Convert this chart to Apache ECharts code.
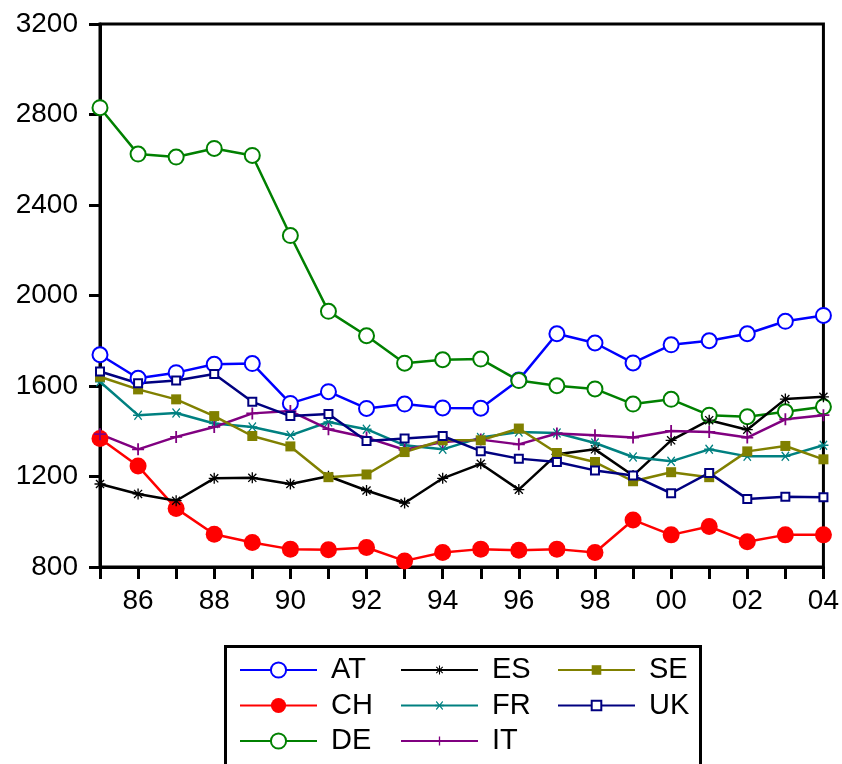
<!DOCTYPE html>
<html>
<head>
<meta charset="utf-8">
<script src="https://cdn.jsdelivr.net/npm/echarts@6/dist/echarts.min.js"></script>
<style>
html,body{margin:0;padding:0;background:#fff;}
#c{width:842px;height:764px;}
</style>
</head>
<body>
<div id="c"></div>
<script>
const years = ['1985','1986','1987','1988','1989','1990','1991','1992','1993','1994','1995','1996','1997','1998','1999','2000','2001','2002','2003','2004'];
const AT = [1738,1634,1659,1696,1699,1523,1575,1501,1520,1503,1502,1627,1831,1790,1702,1782,1800,1831,1886,1912];
const CH = [1368,1246,1059,945,908,879,876,886,827,864,879,874,879,864,1008,942,979,912,942,942];
const DE = [2830,2625,2612,2650,2619,2265,1930,1822,1701,1716,1719,1624,1601,1587,1520,1541,1471,1464,1486,1508];
const ES = [1167,1123,1093,1192,1194,1167,1201,1138,1083,1192,1256,1142,1298,1320,1204,1360,1449,1407,1542,1552];
const FR = [1619,1471,1481,1434,1419,1382,1441,1409,1338,1320,1372,1397,1392,1348,1286,1267,1320,1289,1289,1338];
const IT = [1387,1320,1375,1419,1479,1489,1409,1372,1318,1352,1363,1342,1390,1382,1372,1401,1397,1372,1453,1471];
const SE = [1641,1585,1541,1467,1379,1333,1197,1209,1308,1360,1360,1412,1304,1264,1179,1219,1197,1311,1335,1276];
const UK = [1664,1612,1624,1653,1530,1467,1476,1357,1368,1379,1312,1279,1264,1227,1204,1126,1216,1101,1111,1108];
const yTicks = [800,1200,1600,2000,2400,2800,3200];

const STAR8 = 'path://M8.8,0H11.2V8.8H20V11.2H11.2V20H8.8V11.2H0V8.8H8.8Z M1.8,3.5L3.5,1.8L18.2,16.5L16.5,18.2Z M16.5,1.8L18.2,3.5L3.5,18.2L1.8,16.5Z';
const STAR6 = 'path://M0,8.8H20V11.2H0Z M1.8,3.5L3.5,1.8L18.2,16.5L16.5,18.2Z M16.5,1.8L18.2,3.5L3.5,18.2L1.8,16.5Z';
const PLUS = 'path://M8.5,0H11.5V8.5H20V11.5H11.5V20H8.5V11.5H0V8.5H8.5Z';

const FONT = '"Liberation Sans", Arial, sans-serif';

function mk(name, data, color, symbol, size, extra) {
  return Object.assign({
    name: name, type: 'line', data: data,
    symbol: symbol, symbolSize: size, showAllSymbol: true,
    lineStyle: {color: color, width: 2.5},
    itemStyle: {color: color, borderColor: color, borderWidth: 2.5},
    emphasis: {disabled: true},
    animation: false
  }, extra || {});
}

const series = [
  mk('AT', AT, '#0000ff', 'emptyCircle', 15),
  mk('CH', CH, '#ff0000', 'circle', 17, {itemStyle: {color: '#ff0000', borderWidth: 0}}),
  mk('DE', DE, '#008000', 'emptyCircle', 15),
  mk('ES', ES, '#000000', STAR8, 11, {itemStyle: {color: '#000000', borderWidth: 0}}),
  mk('FR', FR, '#008080', STAR6, 10, {itemStyle: {color: '#008080', borderWidth: 0}}),
  mk('IT', IT, '#800080', PLUS, 12, {itemStyle: {color: '#800080', borderWidth: 0}}),
  mk('SE', SE, '#808000', 'rect', 10, {itemStyle: {color: '#808000', borderWidth: 0}}),
  mk('UK', UK, '#000080', 'emptyRect', 8, {itemStyle: {color: '#000080', borderColor: '#000080', borderWidth: 2}})
];

function legendCol(left, names, ih) {
  return {
    orient: 'vertical', left: left, top: 655, height: 200, padding: 0,
    data: names, itemWidth: 77, itemHeight: ih, itemGap: 5.5,
    selectedMode: false,
    textStyle: {fontFamily: FONT, fontSize: 29, lineHeight: 30, color: '#000', padding: [0,0,0,9]}
  };
}

const chart = echarts.init(document.getElementById('c'), null, {renderer: 'canvas'});
chart.setOption({
  animation: false,
  backgroundColor: '#fff',
  grid: {left: 100, right: 18.5, top: 24, bottom: 197, show: true, borderColor: '#000', borderWidth: 3},
  xAxis: {
    type: 'category', data: years, boundaryGap: false,
    axisLine: {lineStyle: {color: '#000', width: 3}},
    axisTick: {show: true, interval: 0, length: 12, lineStyle: {color: '#000', width: 3}},
    axisLabel: {
      interval: function (i) { return i % 2 === 1; },
      formatter: function (v) { return v.slice(2); },
      fontFamily: FONT, fontSize: 28, color: '#000', margin: 20
    },
    splitLine: {show: false}
  },
  yAxis: {
    type: 'value', min: yTicks[0], max: yTicks[yTicks.length - 1], interval: 400,
    axisLine: {show: true, lineStyle: {color: '#000', width: 3}},
    axisTick: {show: true, length: 11, lineStyle: {color: '#000', width: 3}},
    axisLabel: {fontFamily: FONT, fontSize: 28, color: '#000', margin: 22, formatter: function (v) { return String(v); }},
    splitLine: {show: false}
  },
  legend: [
    legendCol(239, ['AT', 'CH', 'DE'], 19),
    legendCol(400, ['ES', 'FR', 'IT'], 11),
    legendCol(557, ['SE', 'UK'], 12)
  ],
  graphic: [{
    type: 'rect', left: 223, top: 644,
    shape: {width: 475, height: 140},
    style: {fill: 'none', stroke: '#000', lineWidth: 3},
    z: 100, silent: true
  }],
  series: series
});
</script>
</body>
</html>
